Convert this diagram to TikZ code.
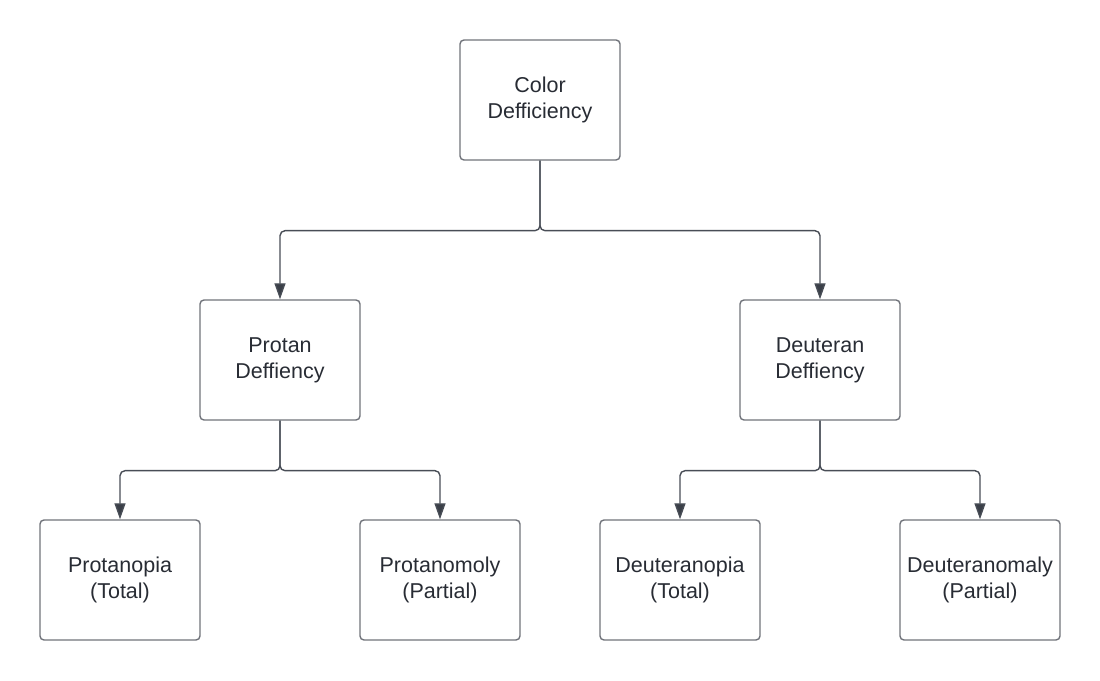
\documentclass[tikz,border=0pt]{standalone}
\usepackage{fontspec}
\setmainfont{Liberation Sans}
\usetikzlibrary{arrows.meta}

\definecolor{boxline}{RGB}{112,115,122}
\definecolor{linkline}{RGB}{72,77,86}
\definecolor{tipfill}{RGB}{58,63,72}
\definecolor{textcol}{RGB}{40,44,52}

\tikzset{
  box/.style={draw=boxline, line width=1.4pt, rounded corners=4pt,
    minimum width=160pt, minimum height=120pt, inner sep=0pt,
    align=center, text=textcol, font=\fontsize{21.5}{26}\selectfont},
  link/.style={draw=linkline, line width=1.4pt, rounded corners=5pt,
    -{Triangle[length=16pt,width=11pt,fill=tipfill]}}
}

\begin{document}
\begin{tikzpicture}[x=1pt,y=1pt]
 \useasboundingbox (0,0) rectangle (1100,680);

 % top level
 \node[box] (color) at (540,580) {Color\\Defficiency};

 % second level
 \node[box] (protan) at (280,320) {Protan\\Deffiency};
 \node[box] (deuteran) at (820,320) {Deuteran\\Deffiency};

 % third level
 \node[box] (protanopia) at (120,100) {Protanopia\\(Total)};
 \node[box] (protanomoly) at (440,100) {Protanomoly\\(Partial)};
 \node[box] (deuteranopia) at (680,100) {Deuteranopia\\(Total)};
 \node[box] (deuteranomaly) at (980,100) {Deuteranomaly\\(Partial)};

 \draw[link] (color.south) -- ++(0,-70) -| (protan.north);
 \draw[link] (color.south) -- ++(0,-70) -| (deuteran.north);

 \draw[link] (protan.south) -- ++(0,-50) -| (protanopia.north);
 \draw[link] (protan.south) -- ++(0,-50) -| (protanomoly.north);

 \draw[link] (deuteran.south) -- ++(0,-50) -| (deuteranopia.north);
 \draw[link] (deuteran.south) -- ++(0,-50) -| (deuteranomaly.north);
\end{tikzpicture}
\end{document}
